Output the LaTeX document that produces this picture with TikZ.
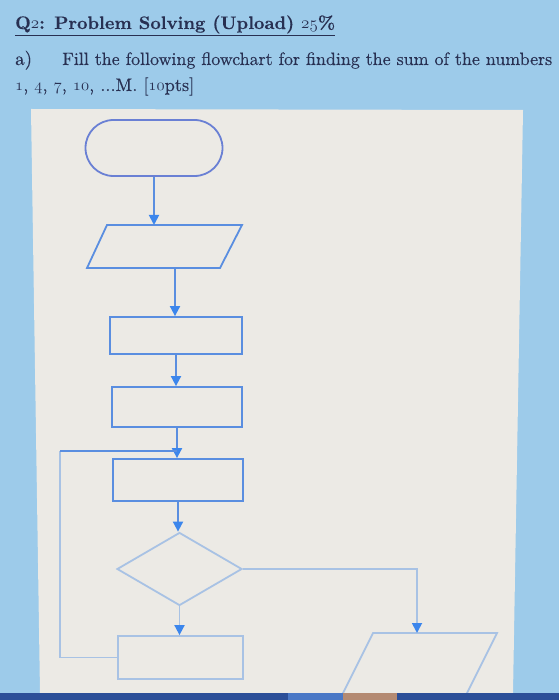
\documentclass[tikz,border=0pt]{standalone}
\usepackage{fontspec}
\usepackage{graphicx}
\usetikzlibrary{shapes.geometric,arrows.meta}
\newfontfamily\qfont{lmroman10-regular.otf}[FakeBold=0.35]
\newfontfamily\qbold{lmroman10-bold.otf}[FakeBold=0.25]
\definecolor{bgblue}{HTML}{9DCBEA}
\definecolor{panel}{HTML}{ECEAE5}
\definecolor{ink}{HTML}{283052}
\definecolor{lineA}{HTML}{6A80D4}
\definecolor{lineB}{HTML}{5A8EE0}
\definecolor{lineC}{HTML}{A8C2E4}
\definecolor{tipblue}{HTML}{3C86EC}
\definecolor{barblue}{HTML}{2C4F98}
\definecolor{barlight}{HTML}{4A78C6}
\definecolor{bartan}{HTML}{B48A72}
\newcommand\osn[1]{{\usefont{OML}{lmm}{m}{it}#1}}
\newcommand\osnb[1]{{\usefont{OML}{lmm}{b}{it}#1}}
\begin{document}
\begin{tikzpicture}[x=1pt,y=-1pt,
  box/.style={draw, line width=1.8pt, inner sep=0pt},
  shp/.style={line width=1.8pt, line join=miter},
  arr/.style={line width=1.8pt, -{Triangle[width=10pt,length=10pt,color=tipblue]}},
  qtxt/.style={anchor=base west, inner sep=0pt, text=ink, font=\qfont\fontsize{19}{22}\selectfont}]
\useasboundingbox (0,0) rectangle (559,700);
\fill[bgblue] (0,0) rectangle (559,700);
\fill[panel] (31,109) -- (523,110) -- (513,693) -- (40,693) -- cycle;
% texts
\node[qtxt, font=\qbold\fontsize{18.5}{22}\selectfont] (title) at (15,29) {\resizebox{320pt}{!}{\underline{Q\osnb{2}: Problem Solving (Upload) \osnb{25}\%}}};
\node[qtxt] (qa) at (15,65) {a)};
\node[qtxt] (qtext) at (62,65) {\resizebox{490pt}{!}{Fill the following flowchart for finding the sum of the numbers}};
\node[qtxt] (qline) at (15,91) {\resizebox{179pt}{!}{\osn{1}, \osn{4}, \osn{7}, \osn{10}, ...M. [\osn{10}pts]}};
% shapes
\node[box, draw=lineA, rounded corners=28pt, minimum width=137pt, minimum height=56pt] (term) at (154,148) {};
\draw[shp, draw=lineB] (107,225) -- (242,225) -- (220,268) -- (87,268) -- cycle;
\coordinate (in1n) at (154,225);
\coordinate (in1s) at (175,268);
\node[box, draw=lineB, minimum width=132pt, minimum height=37pt] (p1) at (176,335.5) {};
\node[box, draw=lineB, minimum width=130pt, minimum height=40pt] (p2) at (177,407) {};
\node[box, draw=lineB, minimum width=130pt, minimum height=42pt] (p3) at (178,480) {};
\node[box, draw=lineC, diamond, minimum width=125pt, minimum height=73pt] (dec) at (179.5,569) {};
\node[box, draw=lineC, minimum width=125pt, minimum height=43pt] (p4) at (180.5,657.5) {};
\draw[shp, draw=lineC] (373,633) -- (497,633) -- (457,713) -- (333,713) -- cycle;
\coordinate (outn) at (417,633);
\coordinate (loopL) at (60,451);
% connectors
\draw[arr, draw=lineB] (term.south) -- (term.south |- in1n);
\draw[arr, draw=lineB] (in1s) -- (in1s |- p1.north);
\draw[arr, draw=lineB] (p1.south) -- (p1.south |- p2.north);
\draw[arr, draw=lineB] (p2.south) -- (p2.south |- p3.north);
\draw[arr, draw=lineB] (p3.south) -- (p3.south |- dec.north);
\draw[arr, draw=lineC] (dec.south) -- (dec.south |- p4.north);
\draw[arr, draw=lineC] (dec.east) -| (outn);
\draw[line width=1.8pt, draw=lineC] (p4.west) -| (loopL);
\draw[line width=1.8pt, draw=lineB] (loopL) -- (loopL -| p2.south);
% taskbar strip
\fill[barblue] (0,693) rectangle (559,700);
\fill[barlight] (288,693) rectangle (343,700);
\fill[bartan] (343,693) rectangle (397,700);
\end{tikzpicture}
\end{document}
